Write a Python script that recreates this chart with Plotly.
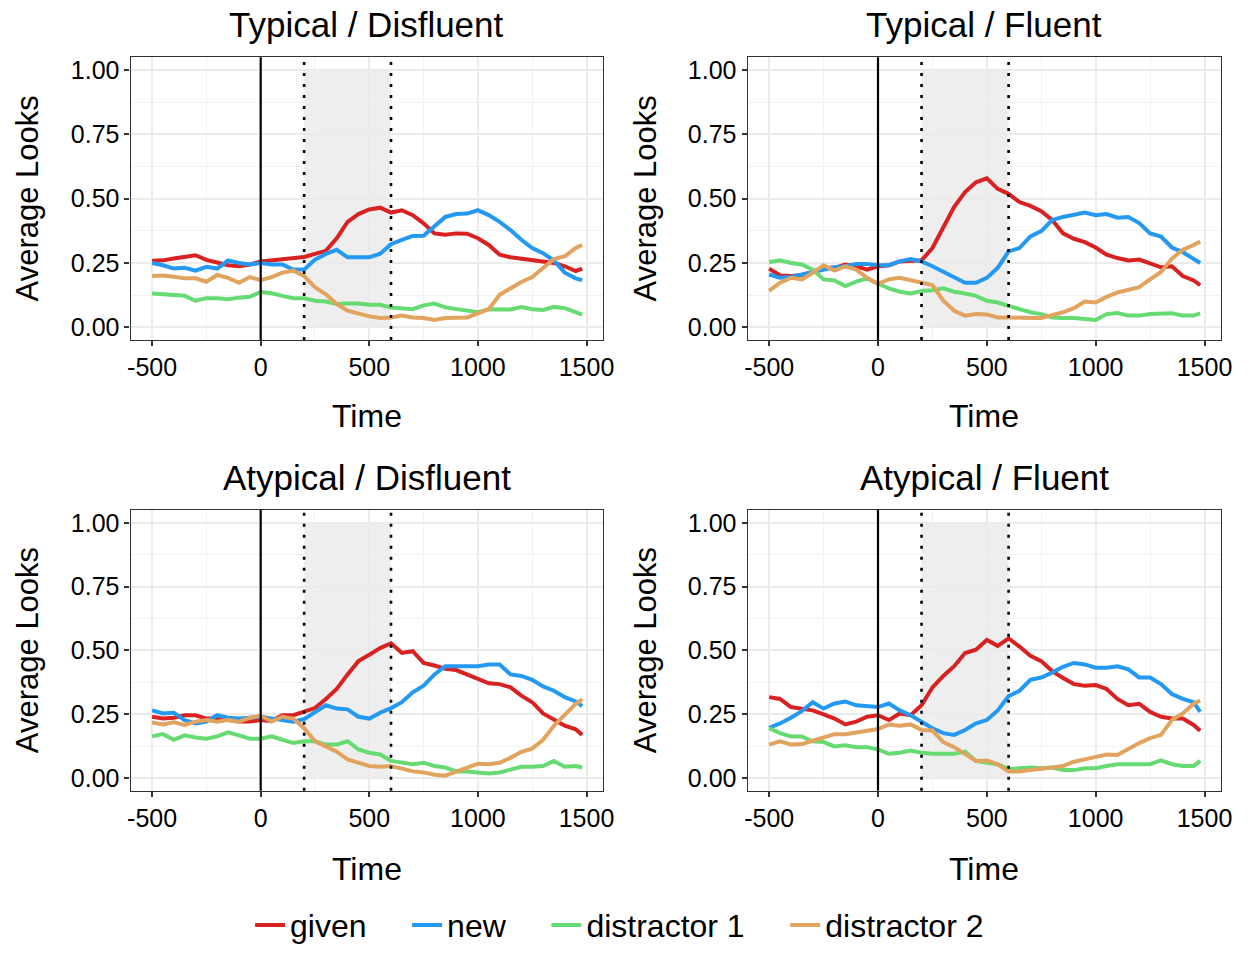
import plotly.graph_objects as go

time = [-500, -450, -400, -350, -300, -250, -200, -150, -100, -50, 0, 50, 100, 150, 200,
        250, 300, 350, 400, 450, 500, 550, 600, 650, 700, 750, 800, 850, 900, 950, 1000,
        1050, 1100, 1150, 1200, 1250, 1300, 1350, 1400, 1450, 1480]

panel_titles = ["Typical / Disfluent", "Typical / Fluent", "Atypical / Disfluent", "Atypical / Fluent"]
series_names = ["given", "new", "distractor 1", "distractor 2"]
series_colors = ["#D92121", "#2399F3", "#66DB72", "#E2A35E"]

# Typical / Disfluent
td_given = [0.259, 0.26, 0.267, 0.273, 0.28, 0.262, 0.25, 0.241, 0.237, 0.244, 0.256, 0.26, 0.267, 0.27, 0.273,
            0.285, 0.297, 0.346, 0.41, 0.44, 0.458, 0.465, 0.446, 0.455, 0.436, 0.404, 0.365, 0.36, 0.365, 0.364, 0.346,
            0.32, 0.282, 0.272, 0.267, 0.259, 0.256, 0.25, 0.237, 0.218, 0.228]
td_new = [0.25, 0.241, 0.228, 0.231, 0.22, 0.235, 0.228, 0.26, 0.25, 0.244, 0.25, 0.244, 0.244, 0.224, 0.224,
          0.263, 0.285, 0.301, 0.272, 0.272, 0.272, 0.286, 0.323, 0.34, 0.355, 0.356, 0.391, 0.429, 0.44, 0.442, 0.455,
          0.436, 0.41, 0.378, 0.34, 0.308, 0.288, 0.259, 0.212, 0.19, 0.183]
td_d1 = [0.131, 0.127, 0.126, 0.122, 0.103, 0.113, 0.113, 0.109, 0.115, 0.118, 0.137, 0.132, 0.122, 0.113, 0.113,
         0.103, 0.1, 0.09, 0.092, 0.092, 0.087, 0.087, 0.077, 0.072, 0.07, 0.085, 0.092, 0.077, 0.07, 0.064, 0.058,
         0.07, 0.07, 0.069, 0.078, 0.07, 0.067, 0.079, 0.074, 0.058, 0.049]
td_d2 = [0.199, 0.201, 0.196, 0.19, 0.19, 0.177, 0.203, 0.192, 0.173, 0.195, 0.183, 0.195, 0.212, 0.22, 0.199,
         0.156, 0.128, 0.09, 0.064, 0.051, 0.042, 0.036, 0.038, 0.045, 0.038, 0.036, 0.028, 0.036, 0.038, 0.038, 0.054,
         0.07, 0.126, 0.151, 0.176, 0.195, 0.231, 0.265, 0.276, 0.308, 0.32]

# Typical / Fluent
tf_given = [0.228, 0.201, 0.199, 0.203, 0.215, 0.231, 0.231, 0.244, 0.237, 0.224, 0.237, 0.241, 0.256, 0.259, 0.26,
            0.308, 0.385, 0.468, 0.526, 0.564, 0.579, 0.538, 0.519, 0.487, 0.472, 0.451, 0.417, 0.365, 0.344, 0.331, 0.31,
            0.282, 0.269, 0.26, 0.263, 0.25, 0.233, 0.237, 0.199, 0.182, 0.164]
tf_new = [0.205, 0.192, 0.195, 0.205, 0.215, 0.224, 0.233, 0.237, 0.246, 0.246, 0.241, 0.241, 0.256, 0.265, 0.256,
          0.237, 0.215, 0.192, 0.173, 0.173, 0.192, 0.231, 0.295, 0.308, 0.353, 0.374, 0.417, 0.429, 0.438, 0.446, 0.436,
          0.44, 0.426, 0.429, 0.405, 0.365, 0.353, 0.31, 0.292, 0.263, 0.25]
tf_d1 = [0.253, 0.26, 0.25, 0.244, 0.224, 0.186, 0.182, 0.16, 0.177, 0.19, 0.169, 0.151, 0.138, 0.131, 0.141,
         0.144, 0.151, 0.138, 0.131, 0.122, 0.103, 0.096, 0.083, 0.07, 0.058, 0.051, 0.038, 0.036, 0.036, 0.032, 0.028,
         0.051, 0.055, 0.045, 0.045, 0.051, 0.054, 0.054, 0.045, 0.045, 0.054]
tf_d2 = [0.141, 0.173, 0.192, 0.186, 0.212, 0.241, 0.22, 0.237, 0.224, 0.192, 0.169, 0.186, 0.192, 0.182, 0.173,
         0.164, 0.103, 0.064, 0.045, 0.051, 0.049, 0.038, 0.038, 0.036, 0.036, 0.036, 0.045, 0.058, 0.074, 0.1, 0.096,
         0.118, 0.135, 0.144, 0.156, 0.186, 0.215, 0.267, 0.301, 0.32, 0.333]

# Atypical / Disfluent
ad_given = [0.24, 0.233, 0.236, 0.246, 0.246, 0.233, 0.233, 0.227, 0.221, 0.221, 0.227, 0.223, 0.246, 0.246, 0.259,
            0.274, 0.31, 0.349, 0.406, 0.458, 0.483, 0.509, 0.528, 0.49, 0.497, 0.451, 0.441, 0.428, 0.423, 0.406, 0.387,
            0.371, 0.368, 0.355, 0.323, 0.297, 0.253, 0.227, 0.205, 0.191, 0.169]
ad_new = [0.265, 0.253, 0.256, 0.227, 0.214, 0.221, 0.246, 0.236, 0.233, 0.236, 0.24, 0.233, 0.227, 0.221, 0.231,
          0.259, 0.285, 0.272, 0.269, 0.24, 0.233, 0.256, 0.274, 0.297, 0.336, 0.362, 0.406, 0.438, 0.438, 0.438, 0.438,
          0.445, 0.445, 0.406, 0.4, 0.385, 0.359, 0.342, 0.317, 0.3, 0.282]
ad_d1 = [0.163, 0.172, 0.15, 0.167, 0.159, 0.154, 0.163, 0.179, 0.167, 0.154, 0.154, 0.163, 0.15, 0.137, 0.144,
         0.144, 0.131, 0.131, 0.144, 0.112, 0.099, 0.092, 0.067, 0.06, 0.054, 0.06, 0.047, 0.041, 0.026, 0.026, 0.022,
         0.018, 0.022, 0.031, 0.044, 0.044, 0.047, 0.067, 0.044, 0.047, 0.041]
ad_d2 = [0.218, 0.21, 0.218, 0.208, 0.221, 0.227, 0.221, 0.227, 0.221, 0.236, 0.244, 0.221, 0.24, 0.233, 0.195,
         0.144, 0.124, 0.103, 0.073, 0.06, 0.047, 0.044, 0.047, 0.037, 0.026, 0.022, 0.013, 0.009, 0.026, 0.041, 0.056,
         0.054, 0.06, 0.079, 0.103, 0.115, 0.15, 0.205, 0.246, 0.291, 0.308]

# Atypical / Fluent
af_given = [0.317, 0.31, 0.278, 0.272, 0.265, 0.249, 0.233, 0.21, 0.221, 0.24, 0.246, 0.227, 0.253, 0.246, 0.285,
            0.355, 0.4, 0.438, 0.49, 0.503, 0.541, 0.518, 0.547, 0.515, 0.479, 0.458, 0.419, 0.392, 0.368, 0.362, 0.364,
            0.349, 0.31, 0.285, 0.291, 0.259, 0.24, 0.233, 0.233, 0.208, 0.185]
af_new = [0.197, 0.214, 0.236, 0.262, 0.297, 0.272, 0.292, 0.3, 0.285, 0.282, 0.278, 0.292, 0.265, 0.246, 0.221,
          0.195, 0.176, 0.169, 0.188, 0.214, 0.227, 0.265, 0.321, 0.342, 0.385, 0.394, 0.413, 0.436, 0.451, 0.445, 0.432,
          0.432, 0.438, 0.426, 0.394, 0.394, 0.368, 0.329, 0.31, 0.297, 0.259]
af_d1 = [0.195, 0.176, 0.163, 0.163, 0.144, 0.141, 0.124, 0.128, 0.121, 0.121, 0.112, 0.095, 0.099, 0.108, 0.099,
         0.095, 0.095, 0.095, 0.103, 0.067, 0.06, 0.054, 0.035, 0.037, 0.041, 0.038, 0.041, 0.031, 0.031, 0.038, 0.038,
         0.047, 0.054, 0.054, 0.054, 0.054, 0.069, 0.054, 0.047, 0.047, 0.067]
af_d2 = [0.131, 0.144, 0.131, 0.133, 0.146, 0.159, 0.172, 0.172, 0.178, 0.185, 0.192, 0.21, 0.205, 0.21, 0.188,
         0.186, 0.141, 0.121, 0.092, 0.067, 0.069, 0.054, 0.026, 0.026, 0.031, 0.035, 0.041, 0.047, 0.064, 0.073, 0.082,
         0.092, 0.09, 0.115, 0.137, 0.156, 0.169, 0.227, 0.253, 0.291, 0.304]

panels = [
    [td_given, td_new, td_d1, td_d2],
    [tf_given, tf_new, tf_d1, tf_d2],
    [ad_given, ad_new, ad_d1, ad_d2],
    [af_given, af_new, af_d1, af_d2],
]

x_ticks = [-500, 0, 500, 1000, 1500]
y_ticks = [0.0, 0.25, 0.5, 0.75, 1.0]
y_tick_text = ["0.00", "0.25", "0.50", "0.75", "1.00"]
window_start, window_end = 200, 600
onset = 0

W, H = 1257, 953
col_dom = [(129 / W, 607 / W), (753 / W, 1232 / W)]
row_dom = [(1 - 343 / H, 1 - 57 / H), (1 - 799 / H, 1 - 515 / H)]
row_title_y = [24, 482]
row_xlabel_y = [420, 878]

FONT = "Liberation Sans, Arial, Helvetica, sans-serif"
NB = "\u00a0"
legend_pad = [4, 4, 4, 0]

fig = go.Figure()
layout = dict(
    width=W, height=H, margin=dict(l=0, r=0, t=0, b=0),
    plot_bgcolor="white", paper_bgcolor="white",
    font=dict(family=FONT, color="black"),
    shapes=[], annotations=[],
    showlegend=True,
    legend=dict(orientation="h", x=0.5 - 5 / W, xanchor="center", y=1 - 935 / H, yanchor="middle",
                font=dict(size=32, color="black"), itemwidth=30, tracegroupgap=0,
                bgcolor="rgba(0,0,0,0)"),
)

for p in range(4):
    r, c = divmod(p, 2)
    idx = p + 1
    xa = "xaxis" if idx == 1 else f"xaxis{idx}"
    ya = "yaxis" if idx == 1 else f"yaxis{idx}"
    xref = "x" if idx == 1 else f"x{idx}"
    yref = "y" if idx == 1 else f"y{idx}"
    common = dict(showline=True, linecolor="#333333", linewidth=1.2, mirror=True,
                  ticks="outside", ticklen=5, tickwidth=1.5, tickcolor="#333333",
                  showgrid=True, gridcolor="#EBEBEB", gridwidth=1.8, zeroline=False,
                  tickfont=dict(size=25, color="black", family=FONT))
    layout[xa] = dict(common, domain=col_dom[c], anchor=yref, range=[-599, 1577],
                      tickvals=x_ticks, ticktext=[str(v) for v in x_ticks],
                      minor=dict(tickvals=[-250, 250, 750, 1250], gridcolor="#F2F2F2", gridwidth=0.9, ticks=""))
    layout[ya] = dict(common, domain=row_dom[r], anchor=xref, range=[-0.05, 1.05],
                      tickvals=y_ticks, ticktext=y_tick_text,
                      minor=dict(tickvals=[0.125, 0.375, 0.625, 0.875], gridcolor="#F2F2F2", gridwidth=0.9, ticks=""))
    # shaded window
    layout["shapes"].append(dict(type="rect", xref=xref, yref=yref, x0=window_start, x1=window_end,
                                 y0=0, y1=1, fillcolor="rgba(150,150,150,0.16)", line=dict(width=0),
                                 layer="below"))
    layout["shapes"].append(dict(type="line", xref=xref, yref=f"{yref} domain", x0=onset, x1=onset,
                                 y0=0, y1=1, line=dict(color="black", width=2.2)))
    for xv in (window_start, window_end):
        layout["shapes"].append(dict(type="line", xref=xref, yref=f"{yref} domain", x0=xv, x1=xv,
                                     y0=0, y1=1, line=dict(color="black", width=2.6, dash="3px,8px")))
    cx = (col_dom[c][0] + col_dom[c][1]) / 2
    layout["annotations"].append(dict(text=panel_titles[p], xref="paper", yref="paper", x=cx,
                                      y=1 - row_title_y[r] / H, xanchor="center", yanchor="middle",
                                      showarrow=False, font=dict(size=35, color="black")))
    layout["annotations"].append(dict(text="Time", xref="paper", yref="paper", x=cx,
                                      y=1 - row_xlabel_y[r] / H, xanchor="center", yanchor="middle",
                                      showarrow=False, font=dict(size=32, color="black")))
    lx = (25 if c == 0 else 650) / W
    cy = (row_dom[r][0] + row_dom[r][1]) / 2
    layout["annotations"].append(dict(text="Average Looks", xref="paper", yref="paper", x=lx, y=cy,
                                      xanchor="center", yanchor="middle", textangle=-90,
                                      showarrow=False, font=dict(size=31, color="black")))
    for s in range(4):
        fig.add_trace(go.Scatter(x=time, y=panels[p][s], mode="lines", name=series_names[s] + NB * legend_pad[s],
                                 line=dict(color=series_colors[s], width=4), xaxis=xref, yaxis=yref,
                                 legendgroup=series_names[s], showlegend=(p == 0)))

fig.update_layout(**layout)
fig.write_html("out.html")
